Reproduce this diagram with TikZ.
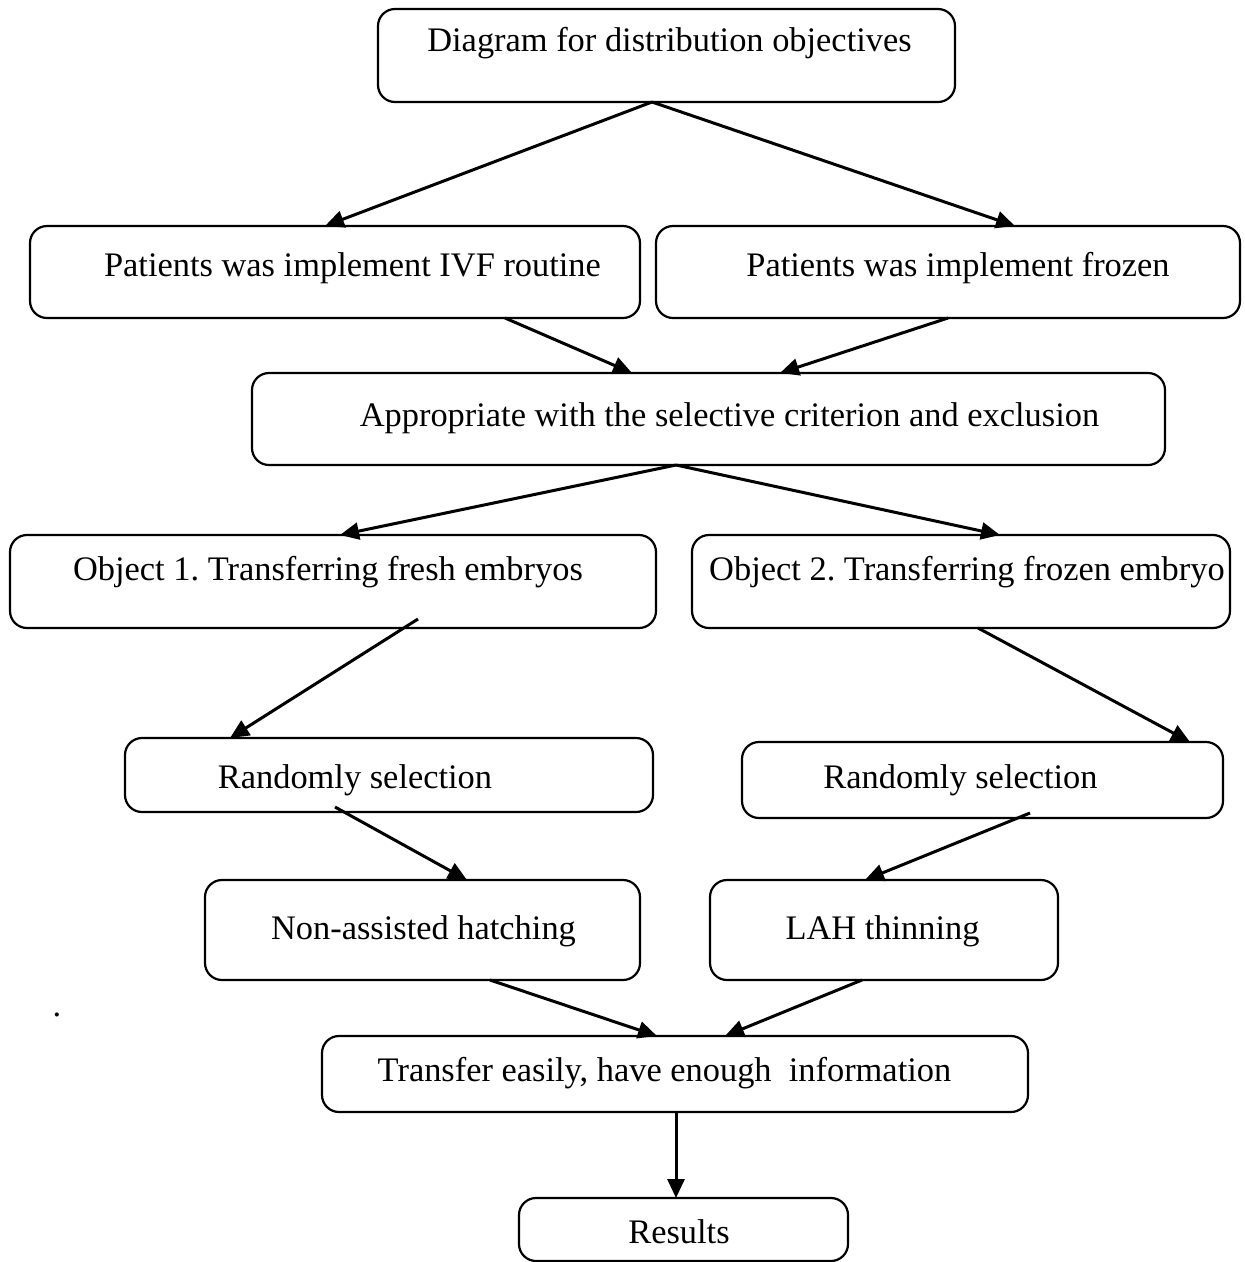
\documentclass[tikz,border=0pt]{standalone}
\usepackage{fontspec}
\setmainfont{Liberation Serif}
\usetikzlibrary{arrows.meta}
\tikzset{
  box/.style={draw, line width=2.2pt, rounded corners=17pt, inner sep=0pt, outer sep=0pt},
  lbl/.style={anchor=base, inner sep=0pt, font=\fontsize{34.4}{40}\selectfont},
  arr/.style={line width=3pt, -{Triangle[length=19pt,width=17pt]}}
}
\frenchspacing
\begin{document}
\begin{tikzpicture}[x=1pt,y=-1pt]
			\useasboundingbox (0,0) rectangle (1245,1262);
			%%%%% BOXES %%%%%
			\node[box, minimum width=577pt, minimum height=93pt] (diag) at (666.5,55.5) {};
			\node[box, minimum width=610pt, minimum height=92pt] (ivf) at (335,272) {};
			\node[box, minimum width=584pt, minimum height=92pt] (frozen) at (948,272) {};
			\node[box, minimum width=913pt, minimum height=92pt] (crit) at (708.5,419) {};
			\node[box, minimum width=646pt, minimum height=93pt] (obja) at (333,581.5) {};
			\node[box, minimum width=538pt, minimum height=93pt] (objb) at (961,581.5) {};
			\node[box, minimum width=528pt, minimum height=74pt] (randa) at (389,775) {};
			\node[box, minimum width=481pt, minimum height=76pt] (randb) at (982.5,780) {};
			\node[box, minimum width=435pt, minimum height=100pt] (nonah) at (422.5,930) {};
			\node[box, minimum width=348pt, minimum height=100pt] (lah) at (884,930) {};
			\node[box, minimum width=706pt, minimum height=76pt] (transfer) at (675,1074) {};
			\node[box, minimum width=329pt, minimum height=63pt] (results) at (683.5,1229.5) {};
			
			%%%%% TEXTS %%%%%
			\node[lbl] (diagT) at (669.5,51) {Diagram for distribution objectives};
			\node[lbl] (ivfT) at (352.5,276) {Patients was implement IVF routine};
			\node[lbl] (frozenT) at (958,276) {Patients was implement frozen};
			\node[lbl] (critT) at (729.5,426) {Appropriate with the selective criterion and exclusion};
			\node[lbl] (objaT) at (328,580) {Object 1. Transferring fresh embryos};
			\node[lbl] (objbT) at (967,580) {Object 2. Transferring frozen embryo};
			\node[lbl] (randaT) at (355,788) {Randomly selection};
			\node[lbl] (randbT) at (960.5,788) {Randomly selection};
			\node[lbl] (nonahT) at (423.5,939) {Non-assisted hatching};
			\node[lbl] (lahT) at (882.5,939) {LAH thinning};
			\node[lbl] (transferT) at (664.5,1081) {Transfer easily, have enough\ \ information};
			\node[lbl] (resultsT) at (679,1243) {Results};
			\node[lbl] (dot) at (57,1016) {.};
			
			%%%%% ARROWS %%%%%
			\draw[arr] ([xshift=-14.5pt]diag.south) -- ([xshift=-10pt]ivf.north);
			\draw[arr] ([xshift=-14.5pt]diag.south) -- ([xshift=67pt]frozen.north);
			\draw[arr] ([xshift=170pt]ivf.south) -- ([xshift=-76.5pt]crit.north);
			\draw[arr] (frozen.south) -- ([xshift=71.5pt]crit.north);
			\draw[arr] ([xshift=-32.5pt]crit.south) -- ([xshift=7pt]obja.north);
			\draw[arr] ([xshift=-32.5pt]crit.south) -- ([xshift=39pt]objb.north);
			\draw[arr] ([xshift=85pt,yshift=9pt]obja.south) -- ([xshift=-159pt]randa.north);
			\draw[arr] ([xshift=17pt]objb.south) -- ([xshift=207.5pt]randb.north);
			\draw[arr] ([xshift=-54pt,yshift=5pt]randa.south) -- ([xshift=44.5pt]nonah.north);
			\draw[arr] ([xshift=47.5pt,yshift=5pt]randb.south) -- ([xshift=-19pt]lah.north);
			\draw[arr] ([xshift=67.5pt]nonah.south) -- ([xshift=-18pt]transfer.north);
			\draw[arr] ([xshift=-22pt]lah.south) -- ([xshift=50pt]transfer.north);
			\draw[arr] ([xshift=1pt]transfer.south) -- ([xshift=-7.5pt]results.north);
		\end{tikzpicture}
\end{document}
